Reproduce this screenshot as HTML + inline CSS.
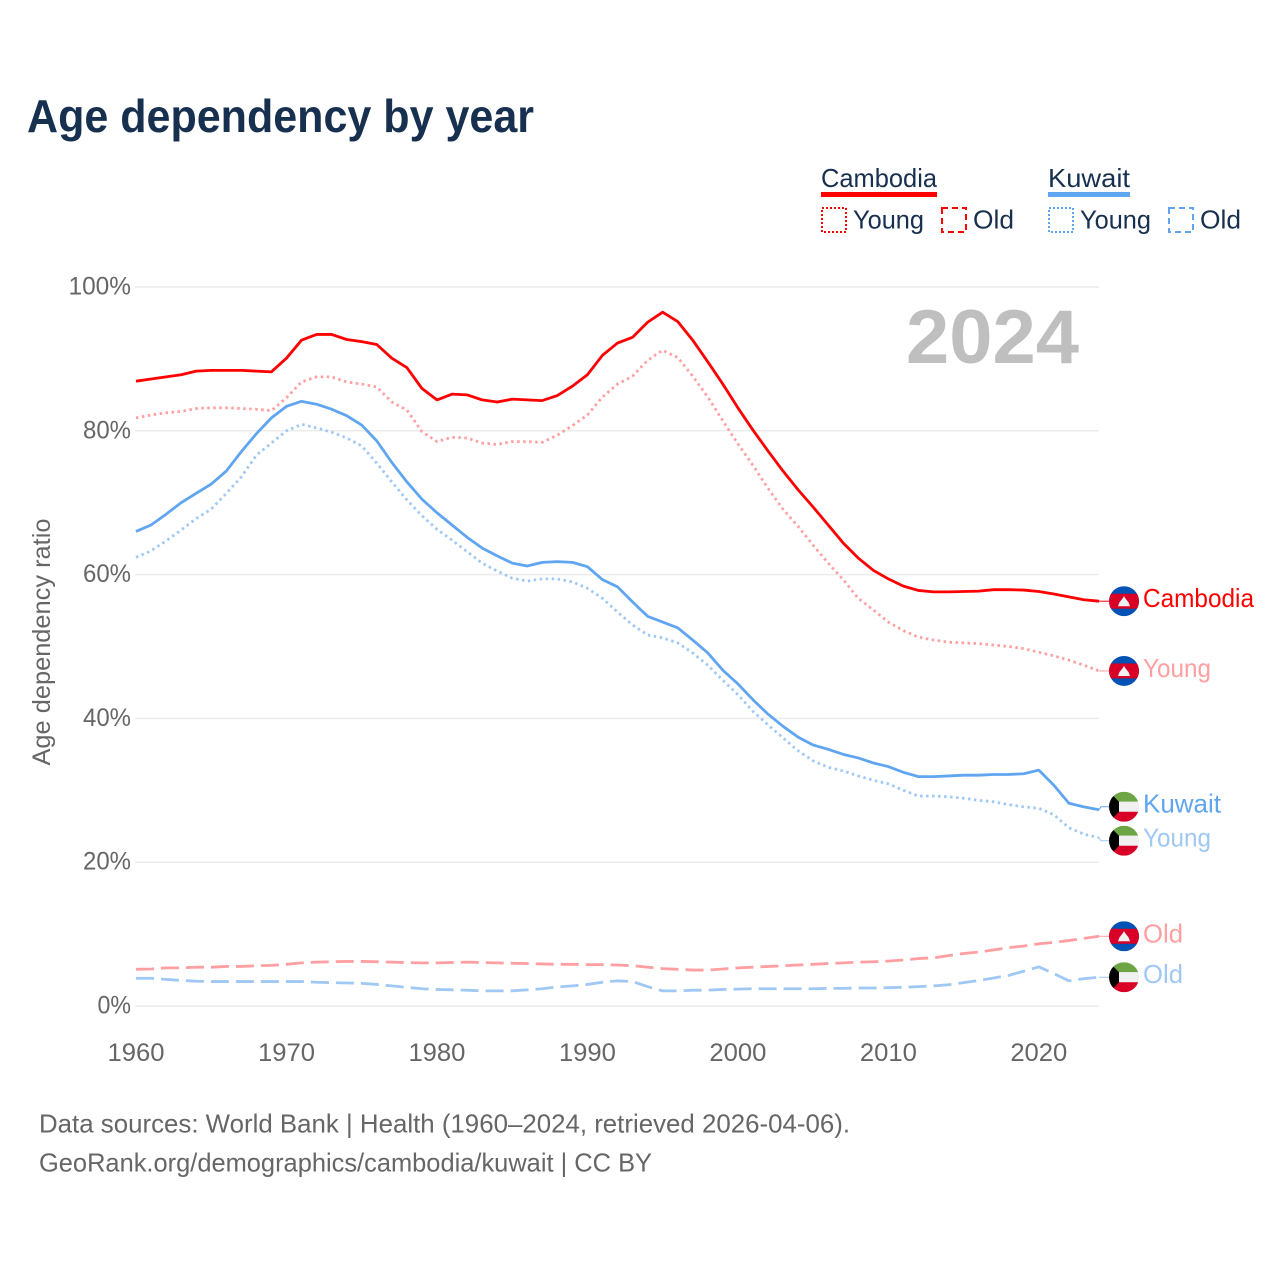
<!DOCTYPE html>
<html lang="en">
<head>
<meta charset="utf-8">
<title>Age dependency by year</title>
<style>
html,body{margin:0;padding:0;background:#fff;}
svg{display:block;font-family:"Liberation Sans",sans-serif;}
</style>
</head>
<body>
<svg id="chart" xmlns="http://www.w3.org/2000/svg" width="1280" height="1280" viewBox="0 0 1280 1280">
  <defs>
    <clipPath id="flag-clip" clipPathUnits="objectBoundingBox"><circle cx="0.5" cy="0.5" r="0.5"/></clipPath>
  </defs>
  <rect x="0" y="0" width="1280" height="1280" fill="#fff"/>
  <text x="27" y="132" font-size="46" font-weight="700" fill="#18304f" textLength="507" lengthAdjust="spacingAndGlyphs">Age dependency by year</text>

  <g font-size="26" fill="#18304f">
    <text x="821" y="187" textLength="116" lengthAdjust="spacingAndGlyphs">Cambodia</text>
    <rect x="821" y="192" width="116" height="5" fill="#ff0000"/>
    <rect x="822" y="208" width="24" height="24" fill="none" stroke="#ff0000" stroke-width="2" stroke-dasharray="2 2"/>
    <text x="853" y="228.5" textLength="71" lengthAdjust="spacingAndGlyphs">Young</text>
    <rect x="942" y="208" width="24" height="24" fill="none" stroke="#ff0000" stroke-width="2" stroke-dasharray="6 4"/>
    <text x="973" y="228.5" textLength="41" lengthAdjust="spacingAndGlyphs">Old</text>

    <text x="1048" y="187" textLength="82" lengthAdjust="spacingAndGlyphs">Kuwait</text>
    <rect x="1048" y="192" width="82" height="5" fill="#60a5f0"/>
    <rect x="1049" y="208" width="24" height="24" fill="none" stroke="#60a5f0" stroke-width="2" stroke-dasharray="2 2"/>
    <text x="1080" y="228.5" textLength="71" lengthAdjust="spacingAndGlyphs">Young</text>
    <rect x="1169" y="208" width="24" height="24" fill="none" stroke="#60a5f0" stroke-width="2" stroke-dasharray="6 4"/>
    <text x="1200" y="228.5" textLength="41" lengthAdjust="spacingAndGlyphs">Old</text>
  </g>

  <g id="grid"></g>
  <g id="yticks"></g>
  <g id="xticks"></g>
  <text transform="translate(50,642) rotate(-90)" text-anchor="middle" font-size="25" fill="#666666" textLength="247" lengthAdjust="spacingAndGlyphs">Age dependency ratio</text>
  <text x="906" y="363" font-size="76" font-weight="700" fill="#bfbfbf" textLength="173" lengthAdjust="spacingAndGlyphs">2024</text>

  <g id="series"></g>
  <g id="labels"></g>

  <g font-size="26" fill="#666666">
    <text x="39" y="1132.5" textLength="811" lengthAdjust="spacingAndGlyphs">Data sources: World Bank | Health (1960–2024, retrieved 2026-04-06).</text>
    <text x="39" y="1171.5" textLength="613" lengthAdjust="spacingAndGlyphs">GeoRank.org/demographics/cambodia/kuwait | CC BY</text>
  </g>
</svg>
<script>
const startYear = 1960;
const endYear = 2024;
const xTickYears = [1960, 1970, 1980, 1990, 2000, 2010, 2020];
const yTickValues = [0, 20, 40, 60, 80, 100];

const cambodiaTotal = [86.9,87.2,87.5,87.8,88.3,88.4,88.4,88.4,88.3,88.2,90.1,92.6,93.4,93.4,92.7,92.4,92.0,90.1,88.8,85.9,84.3,85.1,85.0,84.3,84.0,84.4,84.3,84.2,84.9,86.2,87.8,90.5,92.2,93.0,95.1,96.5,95.2,92.6,89.6,86.5,83.2,80.1,77.2,74.4,71.8,69.4,66.9,64.4,62.3,60.6,59.4,58.4,57.8,57.6,57.6,57.65,57.7,57.9,57.9,57.85,57.65,57.3,56.9,56.5,56.3];
const cambodiaYoung = [81.8,82.2,82.5,82.7,83.1,83.2,83.2,83.1,83.0,82.8,84.6,86.8,87.5,87.5,86.8,86.5,86.1,84.0,82.9,79.9,78.5,79.1,79.0,78.3,78.1,78.5,78.5,78.4,79.4,80.7,82.2,84.7,86.5,87.6,89.8,91.2,90.2,87.6,84.7,81.4,78.2,75.2,72.0,69.1,66.7,64.1,61.6,59.3,56.7,55.1,53.4,52.2,51.3,50.9,50.6,50.5,50.4,50.2,50.0,49.7,49.2,48.7,48.1,47.4,46.6];
const cambodiaOld = [5.1,5.15,5.3,5.3,5.4,5.4,5.5,5.5,5.6,5.65,5.8,6.0,6.1,6.15,6.2,6.2,6.15,6.1,6.05,6.0,6.0,6.05,6.1,6.05,6.0,5.95,5.9,5.85,5.8,5.8,5.75,5.75,5.7,5.6,5.4,5.2,5.1,5.0,5.0,5.15,5.3,5.4,5.5,5.6,5.7,5.8,5.9,6.0,6.1,6.15,6.25,6.4,6.6,6.7,7.0,7.3,7.5,7.8,8.1,8.35,8.65,8.85,9.1,9.4,9.7];
const kuwaitTotal = [66.0,66.9,68.4,70.0,71.3,72.6,74.4,77.1,79.6,81.8,83.4,84.1,83.7,83.0,82.1,80.8,78.6,75.6,72.9,70.5,68.6,66.9,65.2,63.7,62.6,61.6,61.2,61.7,61.8,61.7,61.1,59.3,58.3,56.2,54.2,53.4,52.6,50.9,49.1,46.7,44.8,42.6,40.6,38.9,37.4,36.3,35.7,35.0,34.5,33.8,33.3,32.5,31.9,31.9,32.0,32.1,32.1,32.2,32.2,32.3,32.8,30.7,28.2,27.7,27.3];
const kuwaitYoung = [62.4,63.3,64.7,66.2,67.8,69.1,71.3,73.6,76.6,78.3,80.0,80.9,80.4,79.8,79.0,77.9,75.5,72.9,70.4,68.2,66.3,64.8,63.2,61.6,60.5,59.5,59.1,59.4,59.4,59.0,58.1,56.7,54.8,53.0,51.6,51.2,50.5,49.1,47.4,45.3,43.3,41.0,39.1,37.3,35.5,34.1,33.2,32.7,32.0,31.4,30.9,30.0,29.2,29.2,29.1,28.9,28.6,28.4,28.0,27.7,27.5,26.6,24.8,23.9,23.4];
const kuwaitOld = [3.85,3.85,3.7,3.55,3.45,3.4,3.4,3.4,3.4,3.4,3.4,3.4,3.3,3.25,3.2,3.15,3.0,2.8,2.6,2.4,2.3,2.25,2.2,2.1,2.1,2.1,2.25,2.4,2.65,2.8,3.0,3.3,3.5,3.4,2.7,2.1,2.1,2.2,2.2,2.3,2.35,2.4,2.4,2.4,2.4,2.4,2.45,2.45,2.5,2.5,2.55,2.6,2.7,2.8,2.95,3.25,3.55,3.9,4.25,4.85,5.45,4.5,3.5,3.8,4.0];

const seriesNames = ['cambodia-old', 'kuwait-old', 'kuwait-young', 'kuwait-total', 'cambodia-young', 'cambodia-total'];
const seriesValues = [cambodiaOld, kuwaitOld, kuwaitYoung, kuwaitTotal, cambodiaYoung, cambodiaTotal];
const seriesLabels = ['Old', 'Old', 'Young', 'Kuwait', 'Young', 'Cambodia'];

const NS = 'http://www.w3.org/2000/svg';
const styleByName = {
  'cambodia-total': {color: '#ff0000', dash: null, flag: 'cambodia', w: 111},
  'cambodia-young': {color: '#ff9fa2', dash: '2.5 3.5', flag: 'cambodia', w: 68},
  'cambodia-old':   {color: '#ff9fa2', dash: '18 7', flag: 'cambodia', w: 40},
  'kuwait-total':   {color: '#60a5f0', dash: null, flag: 'kuwait', w: 78},
  'kuwait-young':   {color: '#a0c8f4', dash: '2.5 3.5', flag: 'kuwait', w: 68},
  'kuwait-old':     {color: '#a0c8f4', dash: '18 7', flag: 'kuwait', w: 40}
};

function xScale(year) { return 136 + (year - startYear) * (1099 - 136) / (endYear - startYear); }
function yScale(v) { return 1006 - v * (1006 - 287) / 100; }
function make(tag, attrs, parent) {
  const el = document.createElementNS(NS, tag);
  for (const k in attrs) el.setAttribute(k, attrs[k]);
  parent.appendChild(el);
  return el;
}

const grid = document.getElementById('grid');
const yticks = document.getElementById('yticks');
const xticks = document.getElementById('xticks');
const seriesGroup = document.getElementById('series');
const labelGroup = document.getElementById('labels');

yTickValues.forEach(function (v) {
  const line = make('line', {x1: 135, x2: 1099, y1: yScale(v), y2: yScale(v), stroke: '#ececec', 'stroke-width': 1.5}, grid);
  
  
  const t = make('text', {x: 131, y: yScale(v) + 7.5, 'text-anchor': 'end', 'font-size': 25, fill: '#666666', textLength: String(v).length * 14.5 + 19, lengthAdjust: 'spacingAndGlyphs'}, yticks);
  t.textContent = v + '%';
  
  
});

xTickYears.forEach(function (yr) {
  const t = make('text', {x: xScale(yr), y: 1061, 'text-anchor': 'middle', 'font-size': 25, fill: '#666666', textLength: 57, lengthAdjust: 'spacingAndGlyphs'}, xticks);
  t.textContent = yr;
  
  
});

seriesNames.forEach(function (name, i) {
  const st = styleByName[name];
  const d = seriesValues[i].map(function (v, j) {
    return (j ? 'L' : 'M') + xScale(startYear + j).toFixed(2) + ' ' + yScale(v).toFixed(2);
  }).join('');
  const p = make('path', {d: d, fill: 'none', stroke: st.color, 'stroke-width': 2.8, 'stroke-linejoin': 'round'}, seriesGroup);
  if (st.dash) p.setAttribute('stroke-dasharray', st.dash);
  
  
});

/* end labels: start at the last data value, then push apart on overlap */
const ends = seriesNames.map(function (name, i) {
  const vals = seriesValues[i];
  const y0 = yScale(vals[vals.length - 1]);
  return {name: name, label: seriesLabels[i], y0: y0, y: y0};
}).sort(function (a, b) { return a.y0 - b.y0; });
const minGap = 34;
for (let pass = 0; pass < 4; pass++) {
  for (let i = 1; i < ends.length; i++) {
    const gap = ends[i].y - ends[i - 1].y;
    if (gap < minGap) {
      const push = (minGap - gap) / 2;
      ends[i - 1].y -= push;
      ends[i].y += push;
    }
  }
}

function drawFlag(kind, cx, cy, parent) {
  const r = 15;
  const g = make('g', {'clip-path': 'url(#flag-clip)'}, parent);
  
  
  const l = cx - r, t = cy - r, s = 2 * r;
  if (kind === 'cambodia') {
    make('rect', {x: l, y: t, width: s, height: s, fill: '#0052b4'}, g);
    make('rect', {x: l, y: cy - 7.5, width: s, height: 15, fill: '#d80027'}, g);
    make('path', {d: 'M' + (cx - 6) + ' ' + (cy + 5) + 'L' + (cx - 4.5) + ' ' + (cy + 1) + 'L' + (cx - 2) + ' ' + (cy - 2) + 'L' + cx + ' ' + (cy - 5) + 'L' + (cx + 2) + ' ' + (cy - 2) + 'L' + (cx + 4.5) + ' ' + (cy + 1) + 'L' + (cx + 6) + ' ' + (cy + 5) + 'Z', fill: '#f0f0f0'}, g);
  } else {
    make('rect', {x: l, y: t, width: s, height: 10, fill: '#6da544'}, g);
    make('rect', {x: l, y: t + 10, width: s, height: 10, fill: '#f0f0f0'}, g);
    make('rect', {x: l, y: t + 20, width: s, height: 10, fill: '#d80027'}, g);
    make('path', {d: 'M' + l + ' ' + t + 'L' + (l + 10) + ' ' + (t + 10) + 'L' + (l + 10) + ' ' + (t + 20) + 'L' + l + ' ' + (t + 30) + 'Z', fill: '#000000'}, g);
  }
}

ends.forEach(function (e) {
  const st = styleByName[e.name];
  const conn = make('path', {d: 'M1099 ' + e.y0.toFixed(2) + 'L1101 ' + e.y.toFixed(2) + 'L1110 ' + e.y.toFixed(2), fill: 'none', stroke: st.color, 'stroke-width': 1}, labelGroup);
  
  
  drawFlag(st.flag, 1124, e.y, labelGroup);
  const t = make('text', {x: 1143, y: e.y + 6, 'font-size': 26, fill: st.color, textLength: st.w, lengthAdjust: 'spacingAndGlyphs'}, labelGroup);
  t.textContent = e.label;
  
  
});
</script>
</body>
</html>
